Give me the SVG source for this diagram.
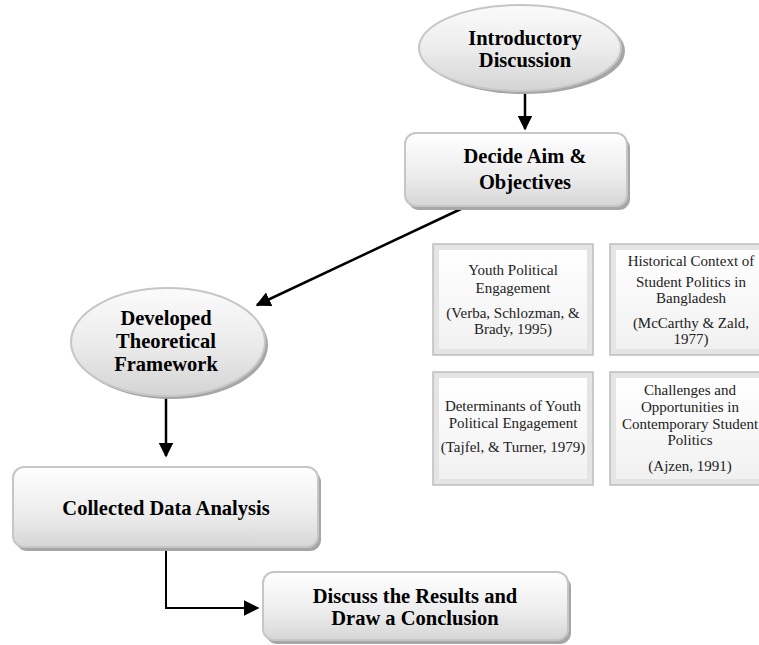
<svg xmlns="http://www.w3.org/2000/svg" width="759" height="645" viewBox="0 0 759 645">
<defs>
<linearGradient id="g" x1="0" y1="0" x2="0" y2="1">
<stop offset="0" stop-color="#ffffff"/>
<stop offset="0.6" stop-color="#ececec"/>
<stop offset="1" stop-color="#d6d6d6"/>
</linearGradient>
<linearGradient id="ge" x1="0" y1="0" x2="0" y2="1">
<stop offset="0" stop-color="#fbfbfb"/>
<stop offset="0.5" stop-color="#ececec"/>
<stop offset="1" stop-color="#d4d4d4"/>
</linearGradient>
<linearGradient id="gb" x1="0" y1="0" x2="0" y2="1">
<stop offset="0" stop-color="#ffffff"/>
<stop offset="1" stop-color="#f1f1f1"/>
</linearGradient>
<marker id="ah" viewBox="0 0 10 10" refX="9" refY="5" markerWidth="6" markerHeight="6" orient="auto" markerUnits="strokeWidth">
<path d="M0,0 L10,5 L0,10 z" fill="#000"/>
</marker>
<marker id="ah2" viewBox="0 0 10 10" refX="9" refY="5" markerWidth="8" markerHeight="8" orient="auto" markerUnits="strokeWidth">
<path d="M0,0 L10,5 L0,10 z" fill="#000"/>
</marker>
</defs>
<style>
.main{font-family:"Liberation Serif","Times New Roman",serif;font-weight:bold;font-size:20.5px;fill:#000;text-anchor:middle}
.small{font-family:"Liberation Serif","Times New Roman",serif;font-size:15px;fill:#222;text-anchor:middle}
.shape{fill:url(#ge);stroke:#c6c6c6;stroke-width:2}
.box{fill:url(#g);stroke:#c6c6c6;stroke-width:2}
.shadow{fill:#a6a6a6}
.bev-out{fill:#e4e4e4;stroke:#bdbdbd;stroke-width:1.5}
.bev-in{fill:url(#gb);stroke:none}
.conn{fill:none;stroke:#000;stroke-width:2.5}
</style>

<g id="connectors">
<line class="conn" x1="525" y1="92" x2="525" y2="129" marker-end="url(#ah)"/>
<line class="conn" x1="463" y1="208" x2="257" y2="305" marker-end="url(#ah)"/>
<line class="conn" x1="166" y1="397" x2="166" y2="456" marker-end="url(#ah)"/>
<polyline class="conn" style="stroke-width:2" points="166,548 166,608 258,608" marker-end="url(#ah2)"/>
</g>

<g id="introductory">
<ellipse class="shadow" cx="524" cy="51" rx="101" ry="43"/>
<ellipse class="shape" cx="520" cy="48" rx="101" ry="43"/>
<text class="main" x="525" y="45">Introductory</text>
<text class="main" x="525" y="67">Discussion</text>
</g>

<g id="decide">
<rect class="shadow" x="408" y="137" width="222" height="73" rx="11"/>
<rect class="box" x="405" y="133" width="222" height="73" rx="11"/>
<text class="main" x="525" y="163">Decide Aim &amp;</text>
<text class="main" x="525" y="189">Objectives</text>
</g>

<g id="framework">
<ellipse class="shadow" cx="171" cy="345" rx="97" ry="54"/>
<ellipse class="shape" cx="168" cy="342" rx="97" ry="54"/>
<text class="main" x="166" y="325">Developed</text>
<text class="main" x="166" y="348">Theoretical</text>
<text class="main" x="166" y="371">Framework</text>
</g>

<g id="collected">
<rect class="shadow" x="16" y="471" width="305" height="80" rx="11"/>
<rect class="box" x="13" y="467" width="305" height="80" rx="11"/>
<text class="main" x="166" y="515">Collected Data Analysis</text>
</g>

<g id="discuss">
<rect class="shadow" x="266" y="576" width="305" height="68" rx="11"/>
<rect class="box" x="263" y="572" width="305" height="68" rx="11"/>
<text class="main" x="415" y="603">Discuss the Results and</text>
<text class="main" x="415" y="625">Draw a Conclusion</text>
</g>

<g id="youth-engagement">
<rect class="bev-out" x="433" y="244" width="160" height="111"/>
<rect class="bev-in" x="439" y="250" width="148" height="99"/>
<text class="small" x="513" y="275">Youth Political</text>
<text class="small" x="513" y="293">Engagement</text>
<text class="small" x="513" y="318">(Verba, Schlozman, &amp;</text>
<text class="small" x="513" y="334">Brady, 1995)</text>
</g>

<g id="historical-context">
<rect class="bev-out" x="610" y="244" width="162" height="111"/>
<rect class="bev-in" x="616" y="250" width="150" height="99"/>
<text class="small" x="691" y="266">Historical Context of</text>
<text class="small" x="691" y="287">Student Politics in</text>
<text class="small" x="691" y="303">Bangladesh</text>
<text class="small" x="691" y="328">(McCarthy &amp; Zald,</text>
<text class="small" x="691" y="344">1977)</text>
</g>

<g id="determinants">
<rect class="bev-out" x="433" y="372" width="160" height="113"/>
<rect class="bev-in" x="439" y="378" width="148" height="101"/>
<text class="small" x="513" y="411">Determinants of Youth</text>
<text class="small" x="513" y="428">Political Engagement</text>
<text class="small" x="513" y="452">(Tajfel, &amp; Turner, 1979)</text>
</g>

<g id="challenges">
<rect class="bev-out" x="610" y="372" width="162" height="113"/>
<rect class="bev-in" x="616" y="378" width="150" height="101"/>
<text class="small" x="690" y="395">Challenges and</text>
<text class="small" x="690" y="412">Opportunities in</text>
<text class="small" x="690" y="429">Contemporary Student</text>
<text class="small" x="690" y="445">Politics</text>
<text class="small" x="690" y="471">(Ajzen, 1991)</text>
</g>
</svg>
